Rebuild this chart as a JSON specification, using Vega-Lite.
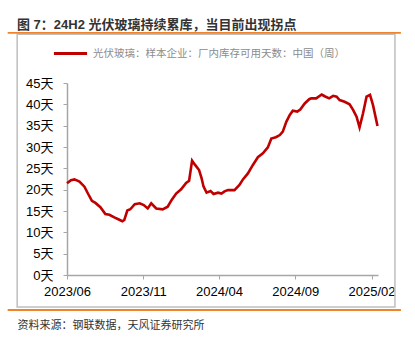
{
  "$schema": "https://vega.github.io/schema/vega-lite/v6.json",
  "width": 311,
  "height": 192,
  "autosize": "none",
  "padding": {"left": 67, "top": 83, "right": 37, "bottom": 63},
  "background": "white",
  "title": {
    "text": "图 7：24H2 光伏玻璃持续累库，当目前出现拐点",
    "anchor": "start",
    "frame": "group",
    "dx": -50,
    "dy": 4,
    "fontSize": 13,
    "fontWeight": "bold",
    "color": "#333333",
    "font": "Liberation Sans, Noto Sans CJK SC",
    "offset": 4
  },
  "config": {
    "view": {"stroke": null},
    "font": "Liberation Sans, Noto Sans CJK SC",
    "axisY": {"tickCount": 10, "labelOverlap": false}
  },
  "layer": [
    {
      "data": {
        "values": [
          {"date": "2023-06-01", "v": 21.5, "s": "光伏玻璃：样本企业：厂内库存可用天数：中国（周）"},
          {"date": "2023-06-09", "v": 22.2, "s": "光伏玻璃：样本企业：厂内库存可用天数：中国（周）"},
          {"date": "2023-06-16", "v": 22.4, "s": "光伏玻璃：样本企业：厂内库存可用天数：中国（周）"},
          {"date": "2023-06-26", "v": 21.9, "s": "光伏玻璃：样本企业：厂内库存可用天数：中国（周）"},
          {"date": "2023-07-06", "v": 20.7, "s": "光伏玻璃：样本企业：厂内库存可用天数：中国（周）"},
          {"date": "2023-07-13", "v": 19.1, "s": "光伏玻璃：样本企业：厂内库存可用天数：中国（周）"},
          {"date": "2023-07-21", "v": 17.4, "s": "光伏玻璃：样本企业：厂内库存可用天数：中国（周）"},
          {"date": "2023-07-28", "v": 16.9, "s": "光伏玻璃：样本企业：厂内库存可用天数：中国（周）"},
          {"date": "2023-08-07", "v": 15.9, "s": "光伏玻璃：样本企业：厂内库存可用天数：中国（周）"},
          {"date": "2023-08-17", "v": 14.3, "s": "光伏玻璃：样本企业：厂内库存可用天数：中国（周）"},
          {"date": "2023-08-25", "v": 14.1, "s": "光伏玻璃：样本企业：厂内库存可用天数：中国（周）"},
          {"date": "2023-09-04", "v": 13.5, "s": "光伏玻璃：样本企业：厂内库存可用天数：中国（周）"},
          {"date": "2023-09-13", "v": 13.0, "s": "光伏玻璃：样本企业：厂内库存可用天数：中国（周）"},
          {"date": "2023-09-20", "v": 12.6, "s": "光伏玻璃：样本企业：厂内库存可用天数：中国（周）"},
          {"date": "2023-09-24", "v": 12.9, "s": "光伏玻璃：样本企业：厂内库存可用天数：中国（周）"},
          {"date": "2023-09-30", "v": 15.1, "s": "光伏玻璃：样本企业：厂内库存可用天数：中国（周）"},
          {"date": "2023-10-06", "v": 15.4, "s": "光伏玻璃：样本企业：厂内库存可用天数：中国（周）"},
          {"date": "2023-10-15", "v": 16.6, "s": "光伏玻璃：样本企业：厂内库存可用天数：中国（周）"},
          {"date": "2023-10-25", "v": 16.8, "s": "光伏玻璃：样本企业：厂内库存可用天数：中国（周）"},
          {"date": "2023-11-02", "v": 16.4, "s": "光伏玻璃：样本企业：厂内库存可用天数：中国（周）"},
          {"date": "2023-11-10", "v": 15.6, "s": "光伏玻璃：样本企业：厂内库存可用天数：中国（周）"},
          {"date": "2023-11-17", "v": 16.8, "s": "光伏玻璃：样本企业：厂内库存可用天数：中国（周）"},
          {"date": "2023-11-27", "v": 15.6, "s": "光伏玻璃：样本企业：厂内库存可用天数：中国（周）"},
          {"date": "2023-12-10", "v": 15.4, "s": "光伏玻璃：样本企业：厂内库存可用天数：中国（周）"},
          {"date": "2023-12-20", "v": 16.0, "s": "光伏玻璃：样本企业：厂内库存可用天数：中国（周）"},
          {"date": "2023-12-28", "v": 17.6, "s": "光伏玻璃：样本企业：厂内库存可用天数：中国（周）"},
          {"date": "2024-01-06", "v": 19.1, "s": "光伏玻璃：样本企业：厂内库存可用天数：中国（周）"},
          {"date": "2024-01-16", "v": 20.1, "s": "光伏玻璃：样本企业：厂内库存可用天数：中国（周）"},
          {"date": "2024-01-26", "v": 21.6, "s": "光伏玻璃：样本企业：厂内库存可用天数：中国（周）"},
          {"date": "2024-02-01", "v": 22.1, "s": "光伏玻璃：样本企业：厂内库存可用天数：中国（周）"},
          {"date": "2024-02-07", "v": 26.8, "s": "光伏玻璃：样本企业：厂内库存可用天数：中国（周）"},
          {"date": "2024-02-13", "v": 25.8, "s": "光伏玻璃：样本企业：厂内库存可用天数：中国（周）"},
          {"date": "2024-02-21", "v": 24.6, "s": "光伏玻璃：样本企业：厂内库存可用天数：中国（周）"},
          {"date": "2024-02-26", "v": 22.7, "s": "光伏玻璃：样本企业：厂内库存可用天数：中国（周）"},
          {"date": "2024-03-01", "v": 20.7, "s": "光伏玻璃：样本企业：厂内库存可用天数：中国（周）"},
          {"date": "2024-03-07", "v": 19.3, "s": "光伏玻璃：样本企业：厂内库存可用天数：中国（周）"},
          {"date": "2024-03-15", "v": 19.7, "s": "光伏玻璃：样本企业：厂内库存可用天数：中国（周）"},
          {"date": "2024-03-21", "v": 19.0, "s": "光伏玻璃：样本企业：厂内库存可用天数：中国（周）"},
          {"date": "2024-03-30", "v": 19.3, "s": "光伏玻璃：样本企业：厂内库存可用天数：中国（周）"},
          {"date": "2024-04-06", "v": 19.1, "s": "光伏玻璃：样本企业：厂内库存可用天数：中国（周）"},
          {"date": "2024-04-12", "v": 19.6, "s": "光伏玻璃：样本企业：厂内库存可用天数：中国（周）"},
          {"date": "2024-04-19", "v": 19.9, "s": "光伏玻璃：样本企业：厂内库存可用天数：中国（周）"},
          {"date": "2024-05-02", "v": 19.9, "s": "光伏玻璃：样本企业：厂内库存可用天数：中国（周）"},
          {"date": "2024-05-12", "v": 21.1, "s": "光伏玻璃：样本企业：厂内库存可用天数：中国（周）"},
          {"date": "2024-05-19", "v": 22.4, "s": "光伏玻璃：样本企业：厂内库存可用天数：中国（周）"},
          {"date": "2024-05-29", "v": 23.8, "s": "光伏玻璃：样本企业：厂内库存可用天数：中国（周）"},
          {"date": "2024-06-08", "v": 25.8, "s": "光伏玻璃：样本企业：厂内库存可用天数：中国（周）"},
          {"date": "2024-06-18", "v": 27.6, "s": "光伏玻璃：样本企业：厂内库存可用天数：中国（周）"},
          {"date": "2024-06-28", "v": 28.5, "s": "光伏玻璃：样本企业：厂内库存可用天数：中国（周）"},
          {"date": "2024-07-08", "v": 29.9, "s": "光伏玻璃：样本企业：厂内库存可用天数：中国（周）"},
          {"date": "2024-07-15", "v": 32.0, "s": "光伏玻璃：样本企业：厂内库存可用天数：中国（周）"},
          {"date": "2024-07-24", "v": 32.3, "s": "光伏玻璃：样本企业：厂内库存可用天数：中国（周）"},
          {"date": "2024-08-01", "v": 32.8, "s": "光伏玻璃：样本企业：厂内库存可用天数：中国（周）"},
          {"date": "2024-08-07", "v": 33.6, "s": "光伏玻璃：样本企业：厂内库存可用天数：中国（周）"},
          {"date": "2024-08-14", "v": 35.9, "s": "光伏玻璃：样本企业：厂内库存可用天数：中国（周）"},
          {"date": "2024-08-21", "v": 37.5, "s": "光伏玻璃：样本企业：厂内库存可用天数：中国（周）"},
          {"date": "2024-08-27", "v": 38.5, "s": "光伏玻璃：样本企业：厂内库存可用天数：中国（周）"},
          {"date": "2024-09-05", "v": 38.3, "s": "光伏玻璃：样本企业：厂内库存可用天数：中国（周）"},
          {"date": "2024-09-11", "v": 38.8, "s": "光伏玻璃：样本企业：厂内库存可用天数：中国（周）"},
          {"date": "2024-09-20", "v": 40.2, "s": "光伏玻璃：样本企业：厂内库存可用天数：中国（周）"},
          {"date": "2024-09-29", "v": 41.2, "s": "光伏玻璃：样本企业：厂内库存可用天数：中国（周）"},
          {"date": "2024-10-03", "v": 41.4, "s": "光伏玻璃：样本企业：厂内库存可用天数：中国（周）"},
          {"date": "2024-10-13", "v": 41.4, "s": "光伏玻璃：样本企业：厂内库存可用天数：中国（周）"},
          {"date": "2024-10-24", "v": 42.3, "s": "光伏玻璃：样本企业：厂内库存可用天数：中国（周）"},
          {"date": "2024-10-30", "v": 41.9, "s": "光伏玻璃：样本企业：厂内库存可用天数：中国（周）"},
          {"date": "2024-11-08", "v": 41.4, "s": "光伏玻璃：样本企业：厂内库存可用天数：中国（周）"},
          {"date": "2024-11-16", "v": 42.0, "s": "光伏玻璃：样本企业：厂内库存可用天数：中国（周）"},
          {"date": "2024-11-23", "v": 41.8, "s": "光伏玻璃：样本企业：厂内库存可用天数：中国（周）"},
          {"date": "2024-11-29", "v": 41.0, "s": "光伏玻璃：样本企业：厂内库存可用天数：中国（周）"},
          {"date": "2024-12-09", "v": 40.6, "s": "光伏玻璃：样本企业：厂内库存可用天数：中国（周）"},
          {"date": "2024-12-19", "v": 40.0, "s": "光伏玻璃：样本企业：厂内库存可用天数：中国（周）"},
          {"date": "2024-12-26", "v": 38.7, "s": "光伏玻璃：样本企业：厂内库存可用天数：中国（周）"},
          {"date": "2025-01-02", "v": 37.1, "s": "光伏玻璃：样本企业：厂内库存可用天数：中国（周）"},
          {"date": "2025-01-08", "v": 34.6, "s": "光伏玻璃：样本企业：厂内库存可用天数：中国（周）"},
          {"date": "2025-01-15", "v": 37.9, "s": "光伏玻璃：样本企业：厂内库存可用天数：中国（周）"},
          {"date": "2025-01-22", "v": 41.8, "s": "光伏玻璃：样本企业：厂内库存可用天数：中国（周）"},
          {"date": "2025-01-29", "v": 42.2, "s": "光伏玻璃：样本企业：厂内库存可用天数：中国（周）"},
          {"date": "2025-02-04", "v": 39.8, "s": "光伏玻璃：样本企业：厂内库存可用天数：中国（周）"},
          {"date": "2025-02-13", "v": 34.9, "s": "光伏玻璃：样本企业：厂内库存可用天数：中国（周）"}
        ]
      },
      "mark": {"type": "line", "strokeWidth": 2.6, "clip": false},
      "encoding": {
        "x": {
          "field": "date",
          "type": "temporal",
          "scale": {
            "type": "utc",
            "domain": [
              {"year": 2023, "month": 6, "date": 1, "utc": true},
              {"year": 2025, "month": 2, "date": 14, "utc": true}
            ]
          },
          "axis": {
            "values": [
              {"year": 2023, "month": 6, "date": 1, "utc": true},
              {"year": 2023, "month": 11, "date": 1, "utc": true},
              {"year": 2024, "month": 4, "date": 1, "utc": true},
              {"year": 2024, "month": 9, "date": 1, "utc": true},
              {"year": 2025, "month": 2, "date": 1, "utc": true}
            ],
            "format": "%Y/%m",
            "grid": false,
            "domainColor": "#A6A6A6",
            "domainWidth": 1.5,
            "tickColor": "#A6A6A6",
            "tickWidth": 1,
            "tickSize": 4,
            "labelFontSize": 13,
            "labelColor": "#000000",
            "labelPadding": 6,
            "labelFlush": false,
            "labelOverlap": false,
            "title": "资料来源：钢联数据，天风证券研究所",
            "titleAnchor": "start",
            "titleAlign": "left",
            "titleBaseline": "alphabetic",
            "titleX": -50,
            "titleY": 53,
            "titleFontSize": 11,
            "titleFontWeight": "normal",
            "titleColor": "#333333"
          }
        },
        "y": {
          "field": "v",
          "type": "quantitative",
          "scale": {"domain": [0, 45], "nice": false, "zero": true},
          "axis": {
            "values": [0, 5, 10, 15, 20, 25, 30, 35, 40, 45],
            "labelExpr": "datum.value + '天'",
            "labelOverlap": false,
            "grid": false,
            "domainColor": "#A6A6A6",
            "domainWidth": 1.5,
            "tickColor": "#A6A6A6",
            "tickSize": 4,
            "labelFontSize": 13,
            "labelColor": "#000000",
            "labelPadding": 10,
            "title": null
          }
        },
        "color": {
          "field": "s",
          "type": "nominal",
          "scale": {"range": ["#C00000"]},
          "legend": {
            "orient": "none",
            "legendX": -15,
            "legendY": -48,
            "title": null,
            "symbolType": "stroke",
            "symbolSize": 1100,
            "symbolStrokeWidth": 3,
            "labelFontSize": 10.5,
            "labelColor": "#8C8C8C",
            "labelOffset": 4,
            "labelLimit": 400
          }
        }
      }
    },
    {
      "data": {"values": [{}]},
      "mark": {"type": "rect", "fill": "transparent", "stroke": "#BFBFBF", "strokeWidth": 1.5, "clip": false},
      "encoding": {
        "x": {"datum": {"year": 2023, "month": 2, "date": 21, "utc": true}, "type": "temporal"},
        "x2": {"datum": {"year": 2025, "month": 3, "date": 20, "utc": true}},
        "y": {"datum": 56.4, "type": "quantitative"},
        "y2": {"datum": -7.5}
      }
    },
    {
      "data": {"values": [{"pos": 56.75}, {"pos": -8.2}]},
      "mark": {"type": "rule", "color": "#F0842A", "strokeWidth": 1.8, "clip": false},
      "encoding": {
        "x": {"datum": {"year": 2023, "month": 2, "date": 2, "utc": true}, "type": "temporal"},
        "x2": {"datum": {"year": 2025, "month": 4, "date": 1, "utc": true}},
        "y": {"field": "pos", "type": "quantitative"}
      }
    }
  ]
}
